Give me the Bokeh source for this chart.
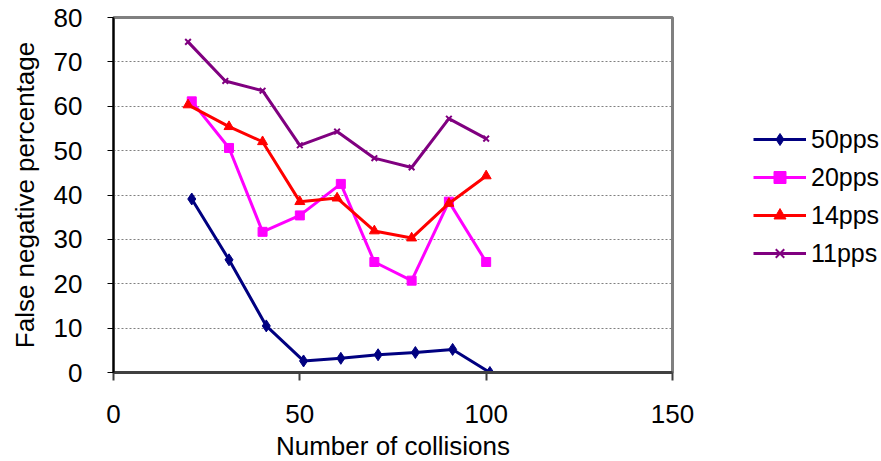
from bokeh.plotting import figure
from bokeh.models import FixedTicker, Legend, LegendItem
from bokeh.embed import file_html
from bokeh.resources import INLINE

# data
x_50 = [21, 31, 41, 51, 61, 71, 81, 91, 101]
y_50 = [39.1, 25.4, 10.5, 2.6, 3.2, 4.0, 4.5, 5.2, 0.0]
x_20 = [21, 31, 40, 50, 61, 70, 80, 90, 100]
y_20 = [61.1, 50.6, 31.7, 35.4, 42.5, 24.9, 20.7, 38.5, 24.9]
x_14 = [20, 31, 40, 50, 60, 70, 80, 90, 100]
y_14 = [60.3, 55.4, 52.0, 38.5, 39.3, 31.9, 30.3, 38.1, 44.3]
x_11 = [20, 30, 40, 50, 60, 70, 80, 90, 100]
y_11 = [74.5, 65.7, 63.5, 51.2, 54.3, 48.3, 46.2, 57.2, 52.7]
series_names = ["50pps", "20pps", "14pps", "11pps"]
x_ticks = [0, 50, 100, 150]
y_ticks = [0, 10, 20, 30, 40, 50, 60, 70, 80]

FONT = "Liberation Sans"
FS = "26px"

p = figure(frame_width=559, frame_height=355, x_range=(0, 150), y_range=(0, 80),
           output_backend="svg", toolbar_location=None)
p.min_border_left = 113
p.min_border_right = 209
p.min_border_top = 17
p.min_border_bottom = 89
p.background_fill_color = "white"
p.border_fill_color = "white"
p.outline_line_color = "#808080"
p.outline_line_width = 3

p.xgrid.visible = False
p.ygrid.grid_line_color = "#808080"
p.ygrid.grid_line_dash = "2 2"
p.ygrid.grid_line_width = 1
p.ygrid.ticker = FixedTicker(ticks=y_ticks)

p.xaxis.ticker = FixedTicker(ticks=x_ticks)
p.yaxis.ticker = FixedTicker(ticks=y_ticks)
p.xaxis.minor_tick_line_color = None
p.yaxis.minor_tick_line_color = None

for ax in (p.xaxis, p.yaxis):
    ax.major_label_text_font = FONT
    ax.major_label_text_font_size = FS
    ax.major_label_text_color = "black"
    ax.axis_label_text_font = FONT
    ax.axis_label_text_font_size = FS
    ax.axis_label_text_font_style = "normal"
    ax.axis_label_text_color = "black"
    ax.major_tick_in = 0

p.xaxis.axis_label = "Number of collisions"
p.yaxis.axis_label = "False negative percentage"
p.xaxis.axis_line_color = "#404040"
p.xaxis.axis_line_width = 3
p.xaxis.major_tick_line_color = "#404040"
p.xaxis.major_tick_line_width = 2
p.xaxis.major_tick_out = 8
p.xaxis.major_label_standoff = 24
p.xaxis.axis_label_standoff = 5

p.yaxis.axis_line_color = "black"
p.yaxis.axis_line_width = 2
p.yaxis.major_tick_line_color = "black"
p.yaxis.major_tick_line_width = 1
p.yaxis.major_tick_out = 6
p.yaxis.major_label_standoff = 25
p.yaxis.axis_label_standoff = 11

items = []
r1 = p.line(x_50, y_50, line_color="#000080", line_width=3)
m1 = p.scatter(x_50, y_50, marker="diamond", size=12, fill_color="#000080", line_color="#000080")
items.append(LegendItem(label=series_names[0], renderers=[r1, m1]))
r2 = p.line(x_20, y_20, line_color="#FF00FF", line_width=3)
m2 = p.scatter(x_20, y_20, marker="square", size=9, fill_color="#FF00FF", line_color="#FF00FF")
items.append(LegendItem(label=series_names[1], renderers=[r2, m2]))
r3 = p.line(x_14, y_14, line_color="#FF0000", line_width=3)
m3 = p.scatter(x_14, y_14, marker="triangle", size=10, fill_color="#FF0000", line_color="#FF0000")
items.append(LegendItem(label=series_names[2], renderers=[r3, m3]))
r4 = p.line(x_11, y_11, line_color="#800080", line_width=3)
m4 = p.scatter(x_11, y_11, marker="x", size=8, line_color="#800080", line_width=2)
items.append(LegendItem(label=series_names[3], renderers=[r4, m4]))

legend = Legend(items=items, location=(81, 104))
legend.label_text_font = FONT
legend.label_text_font_size = "25px"
legend.label_text_color = "black"
legend.glyph_width = 53
legend.glyph_height = 30
legend.label_height = 30
legend.label_standoff = 5
legend.spacing = 8
legend.padding = 0
legend.margin = 0
legend.border_line_color = None
legend.background_fill_alpha = 0
p.add_layout(legend, "right")

open("out.html", "w").write(file_html(p, INLINE))
